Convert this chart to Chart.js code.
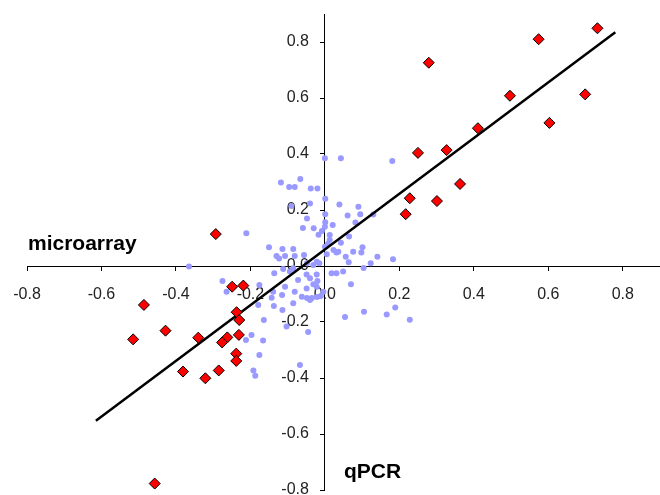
<!DOCTYPE html>
<html>
<head>
<meta charset="utf-8">
<script src="https://cdn.jsdelivr.net/npm/chart.js@4/dist/chart.umd.min.js"></script>
<style>
  html, body { margin: 0; padding: 0; background: #fff; }
  #chart { display: block; }
</style>
</head>
<body>
<canvas id="chart" width="660" height="495"></canvas>
<script>
// axis titles
const xTitle = 'microarray';
const yTitle = 'qPCR';

// tick values (shown as one decimal)
const tickStep = 0.2;
const xMin = -0.8, xMax = 0.9;
const yMin = -0.8, yMax = 0.9;

// highlighted genes (red diamonds)
const redX = [0.732, 0.574, 0.279, 0.497, 0.699, 0.603, 0.411, 0.250, 0.327, 0.363, 0.228, 0.301, 0.217,
  -0.293, -0.249, -0.219, -0.486, -0.237, -0.230, -0.428, -0.515, -0.340, -0.262, -0.276, -0.231,
  -0.238, -0.238, -0.381, -0.285, -0.321, -0.457];
const redY = [0.849, 0.810, 0.726, 0.608, 0.613, 0.511, 0.492, 0.404, 0.414, 0.293, 0.242, 0.232, 0.185,
  0.114, -0.074, -0.070, -0.139, -0.165, -0.193, -0.231, -0.262, -0.256, -0.255, -0.273, -0.246,
  -0.313, -0.339, -0.377, -0.373, -0.401, -0.777];

// other genes (light blue dots)
const blueX = [0.000, 0.043, 0.181, -0.118, -0.096, -0.081, -0.066, -0.038, -0.020, 0.001,
  -0.090, -0.040, 0.039, 0.090, 0.061, 0.095, 0.130, -0.048, 0.001, 0.082,
  0.001, 0.021, -0.059, -0.030, -0.008, -0.211, -0.017, 0.013, 0.065, 0.043,
  -0.150, -0.114, -0.085, 0.101, 0.023, 0.000, 0.076, 0.098, -0.130, -0.123,
  -0.107, -0.081, -0.056, 0.005, 0.031, 0.056, 0.141, 0.123, 0.183, 0.064,
  -0.022, -0.015, -0.048, -0.365, 0.104, -0.275, -0.264, -0.136, -0.112, -0.085,
  -0.072, -0.049, -0.022, -0.040, 0.018, 0.031, 0.049, -0.020, 0.070, -0.031,
  -0.022, -0.049, -0.115, -0.062, -0.048, -0.035, -0.021, -0.011, -0.176, -0.143,
  -0.085, -0.040, -0.179, -0.137, -0.114, -0.164, -0.103, -0.045, -0.197, -0.212,
  -0.166, -0.176, -0.067, -0.192, -0.187, 0.054, 0.105, 0.166, 0.189, 0.228,
  0.000, 0.036, 0.013, 0.008, -0.107, -0.081, -0.139, -0.004, -0.031, -0.094];
const blueY = [0.385, 0.385, 0.375, 0.298, 0.282, 0.282, 0.311, 0.277, 0.277, 0.240,
  0.214, 0.223, 0.220, 0.212, 0.180, 0.185, 0.184, 0.170, 0.185, 0.155,
  0.156, 0.146, 0.136, 0.135, 0.125, 0.117, 0.112, 0.111, 0.105, 0.083,
  0.067, 0.061, 0.061, 0.067, 0.057, 0.069, 0.051, 0.048, 0.036, 0.027,
  0.036, 0.036, 0.039, 0.042, 0.048, 0.033, 0.033, 0.010, 0.024, 0.013,
  0.015, 0.010, 0.010, -0.002, -0.007, -0.054, -0.092, -0.026, -0.011, -0.008,
  -0.050, -0.030, -0.030, -0.044, -0.026, -0.026, -0.020, -0.054, -0.065, -0.065,
  -0.074, -0.080, -0.104, -0.110, -0.114, -0.114, -0.111, -0.107, -0.068, -0.113,
  -0.133, -0.121, -0.139, -0.143, -0.157, -0.193, -0.216, -0.236, -0.246, -0.264,
  -0.266, -0.318, -0.354, -0.373, -0.392, -0.182, -0.163, -0.173, -0.148, -0.192,
  0.140, 0.051, 0.093, 0.079, -0.074, -0.092, -0.092, -0.092, 0.004, -0.020];

// regression line end points
const fitX = [-0.615, 0.780];
const fitY = [-0.553, 0.835];

const toPoints = (xs, ys) => xs.map((x, i) => ({ x: x, y: ys[i] }));
const fmt = v => (Math.abs(v) < 1e-9 ? 0 : v).toFixed(1);
// y labels sit right on the axis when it is placed by value, so pad them with en spaces
const fmtY = v => fmt(v) + '\u2002\u2002';
const FONT = '"Liberation Sans", Arial, sans-serif';

const titlesPlugin = {
  id: 'axisTitles',
  afterDraw(chart) {
    const ctx = chart.ctx;
    ctx.save();
    ctx.fillStyle = '#000';
    ctx.font = 'bold 21px ' + FONT;
    ctx.textBaseline = 'alphabetic';
    ctx.textAlign = 'left';
    ctx.fillText(xTitle, 28, 250);
    ctx.fillText(yTitle, 344, 478);
    ctx.restore();
  }
};

new Chart(document.getElementById('chart'), {
  type: 'scatter',
  data: {
    datasets: [
      {
        label: 'selected',
        data: toPoints(redX, redY),
        pointStyle: 'rectRot',
        pointRadius: 5.5,
        pointBackgroundColor: '#ff0000',
        pointBorderColor: '#000',
        pointBorderWidth: 1,
        order: 0
      },
      {
        type: 'line',
        label: 'fit',
        data: toPoints(fitX, fitY),
        borderColor: '#000',
        borderWidth: 2.5,
        pointRadius: 0,
        fill: false,
        order: 1
      },
      {
        label: 'all',
        data: toPoints(blueX, blueY),
        pointStyle: 'circle',
        pointRadius: 3,
        pointBackgroundColor: '#9999ff',
        pointBorderWidth: 0,
        order: 2
      }
    ]
  },
  options: {
    responsive: false,
    animation: false,
    layout: { autoPadding: false, padding: { left: 27, right: 0, top: 14, bottom: 5 } },
    plugins: { legend: { display: false }, tooltip: { enabled: false } },
    scales: {
      x: {
        type: 'linear',
        position: { y: 0 },
        min: xMin, max: xMax,
        grid: { drawOnChartArea: false, drawTicks: true, tickLength: 4, color: '#000' },
        border: { display: true, color: '#000', width: 1 },
        ticks: { stepSize: tickStep, includeBounds: false, maxRotation: 0, autoSkip: false,
                 padding: 15, color: '#222', font: { family: FONT, size: 16 }, callback: fmt },
        afterFit(s) { s.height = 0; s.paddingLeft = 0; s.paddingRight = 0; }
      },
      y: {
        type: 'linear',
        position: { x: 0 },
        min: yMin, max: yMax,
        grid: { drawOnChartArea: false, drawTicks: true, tickLength: 4, color: '#000' },
        border: { display: true, color: '#000', width: 1 },
        ticks: { stepSize: tickStep, includeBounds: false, autoSkip: false,
                 padding: 10, color: '#222', font: { family: FONT, size: 16 }, callback: fmtY },
        afterFit(s) { s.width = 0; s.paddingTop = 0; s.paddingBottom = 0; }
      }
    }
  },
  plugins: [titlesPlugin]
});
</script>
</body>
</html>
